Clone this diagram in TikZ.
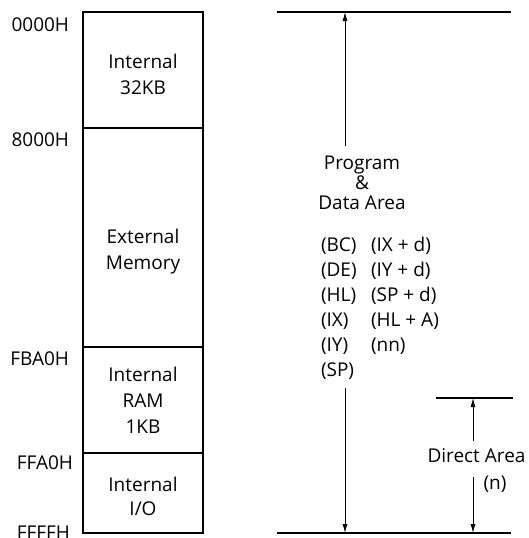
\documentclass[tikz,border=0pt]{standalone}
\usepackage{fontspec}
\setmainfont{Open Sans}
\usetikzlibrary{arrows.meta}
\begin{document}
\begin{tikzpicture}[x=1pt,y=-1pt,
  every node/.style={inner sep=0pt,outer sep=0pt,font=\fontsize{19}{26}\selectfont},
  blk/.style={draw,line width=1.1pt,minimum width=120pt,anchor=north west},
  addr/.style={anchor=base east},
  txt/.style={anchor=base,align=center},
  rule/.style={line width=1.1pt},
  arr/.style={line width=0.9pt,-{Latex[length=9pt,width=5pt]}}]
\useasboundingbox[fill=white] (0,0) rectangle (528,538);
% memory blocks
\node[blk,minimum height=116pt] (b1) at (83,12) {};
\node[blk,minimum height=219pt] (b2) at (83,128) {};
\node[blk,minimum height=106pt] (b3) at (83,347) {};
\node[blk,minimum height=80pt] (b4) at (83,453) {};
% block texts (base anchor = baseline of last line)
\node[txt] (t1) at (143,94.5) {Internal\\32KB};
\node[txt] (t2) at (143,269.5) {External\\Memory};
\node[txt] (t3) at (143,433.5) {Internal\\RAM\\1KB};
\node[txt,font=\fontsize{19}{23.5}\selectfont] (t4) at (143,515) {Internal\\I/O};
% addresses
\node[addr] (a1) at (69,31.5) {0000H};
\node[addr] (a2) at (69,146.5) {8000H};
\node[addr] (a3) at (69,365.5) {FBA0H};
\node[addr] (a4) at (73,469.5) {FFA0H};
\node[addr] (a5) at (70,539) {FFFFH};
% right side rules
\coordinate (tl) at (277,12);
\coordinate (tr) at (511,12);
\coordinate (bl) at (277,533);
\coordinate (br) at (511,533);
\draw[rule] (tl) -- (tr);
\draw[rule] (bl) -- (br);
% program & data area
\node[txt,font=\fontsize{19}{20}\selectfont] (prog) at (362,209.5) {Program\\\&\\Data Area};
\coordinate (pu0) at (345,146);
\coordinate (pu1) at (345,12);
\coordinate (pd0) at (345,388);
\coordinate (pd1) at (345,533);
\draw[arr] (pu0) -- (pu1);
\draw[arr] (pd0) -- (pd1);
\node[anchor=base west,align=left,font=\fontsize{19}{25}\selectfont] (colA) at (321,376.5) {(BC)\\(DE)\\(HL)\\(IX)\\(IY)\\(SP)};
\node[anchor=base west,align=left,font=\fontsize{19}{25}\selectfont] (colB) at (371,351.5) {(IX + d)\\(IY + d)\\(SP + d)\\(HL + A)\\(nn)};
% direct area
\coordinate (dl) at (436,398);
\coordinate (dr) at (513,398);
\draw[rule] (dl) -- (dr);
\node[txt] (dir) at (476.5,462.5) {Direct Area};
\node[txt] (dn) at (495,489.5) {(n)};
\coordinate (du0) at (473,441);
\coordinate (du1) at (473,398);
\coordinate (dd0) at (473,477);
\coordinate (dd1) at (473,533);
\draw[arr] (du0) -- (du1);
\draw[arr] (dd0) -- (dd1);
\end{tikzpicture}
\end{document}
